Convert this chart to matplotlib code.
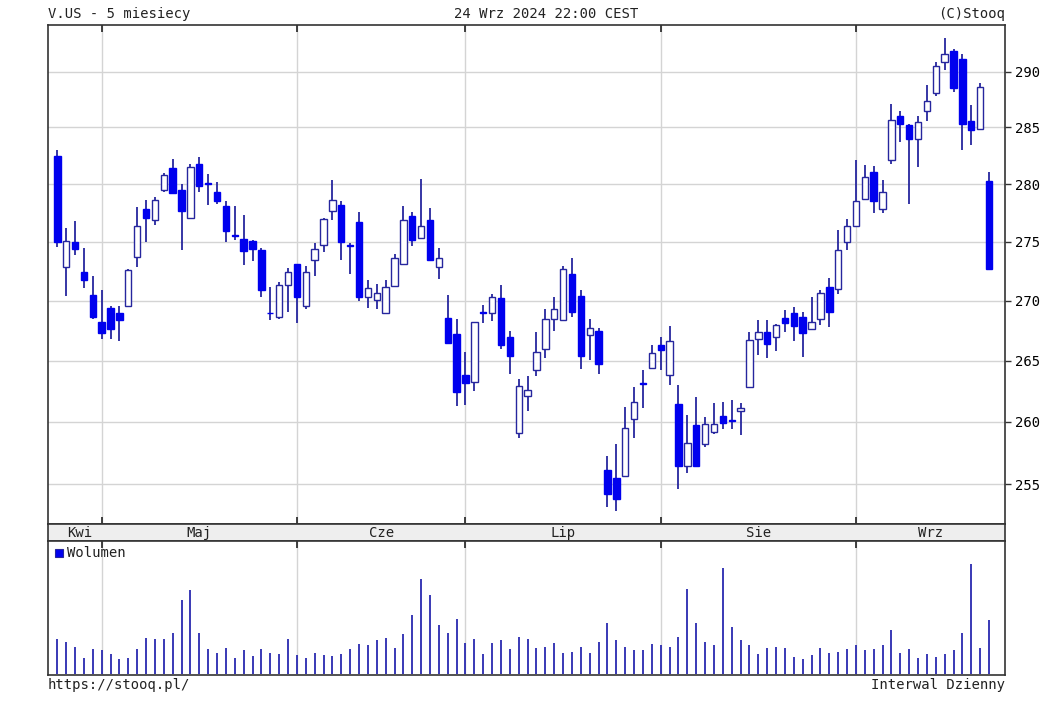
import matplotlib
matplotlib.use('Agg')
import matplotlib.pyplot as plt
from matplotlib.ticker import NullLocator
from matplotlib.patches import Rectangle

plt.rcParams['font.family'] = 'DejaVu Sans Mono'
plt.rcParams['font.size'] = 10

# daily candles, 24 Apr 2024 .. 24 Sep 2024
opens = [282.5, 272.9, 275.0, 272.4, 270.5, 268.2, 269.4, 269.0, 269.6, 273.7,
         277.85, 276.85, 279.5, 281.45, 279.5, 277.1, 281.8, 280.1, 279.3, 278.1,
         275.6, 275.25, 275.05, 274.3, 269.0, 268.65, 271.35, 273.1, 269.6, 273.5,
         274.75, 277.7, 278.15, 274.75, 276.75, 270.3, 270.1, 268.95, 271.25, 273.15,
         277.2, 275.3, 276.9, 272.9, 268.55, 267.2, 263.8, 263.25, 269.05, 268.95,
         270.2, 267.0, 259.1, 262.1, 264.25, 265.95, 268.5, 268.4, 272.3, 270.4,
         267.15, 267.5, 256.1, 255.45, 255.6, 260.25, 263.2, 264.4, 266.3, 263.85,
         261.45, 256.45, 259.75, 258.2, 259.15, 260.5, 260.15, 260.9, 262.85, 266.8,
         267.4, 266.95, 268.55, 268.95, 268.6, 267.65, 268.5, 271.15, 271.0, 275.0,
         276.4, 278.7, 281.05, 277.85, 282.15, 286.05, 285.2, 283.95, 286.5, 288.1,
         290.9, 291.9, 291.2, 285.6, 284.85, 280.25]
highs = [283.0, 276.2, 276.8, 274.5, 272.1, 270.9, 269.6, 269.6, 272.7, 278.0,
         278.6, 278.85, 281.0, 282.25, 280.0, 281.8, 282.4, 280.9, 280.2, 278.5,
         278.1, 277.35, 275.2, 274.5, 271.2, 271.6, 272.8, 273.15, 272.95, 274.95,
         277.1, 280.35, 278.55, 274.9, 277.6, 271.75, 271.45, 271.8, 273.95, 278.1,
         277.6, 280.45, 277.95, 274.5, 270.5, 268.5, 265.75, 268.2, 269.65, 270.55,
         271.35, 267.5, 263.5, 263.7, 267.4, 269.3, 270.3, 272.95, 273.65, 270.95,
         268.45, 267.7, 257.25, 258.2, 261.2, 262.8, 264.25, 266.3, 266.95, 267.9,
         263.0, 260.55, 262.0, 260.4, 261.5, 261.65, 261.75, 261.55, 267.4, 268.4,
         268.35, 268.05, 269.25, 269.45, 269.1, 270.3, 270.9, 271.95, 276.0, 277.0,
         282.15, 281.7, 281.6, 280.35, 287.1, 286.5, 285.3, 286.05, 288.8, 290.9,
         293.1, 292.1, 291.6, 287.05, 288.95, 281.05]
lows = [274.6, 270.4, 273.9, 271.1, 268.5, 266.8, 266.8, 266.6, 269.6, 272.9,
        275.0, 276.5, 279.3, 279.2, 274.35, 277.0, 279.3, 278.2, 278.25, 275.0,
        275.2, 273.05, 273.4, 270.3, 268.35, 268.45, 269.05, 268.1, 269.35, 272.1,
        274.1, 276.9, 273.5, 272.3, 270.0, 269.4, 269.35, 268.95, 271.2, 273.1,
        274.65, 275.3, 273.5, 271.85, 266.5, 261.3, 261.4, 262.5, 268.15, 268.3,
        266.0, 263.9, 258.7, 260.9, 263.7, 265.2, 267.45, 268.35, 268.65, 264.3,
        265.05, 263.9, 253.2, 252.85, 255.6, 258.65, 261.15, 264.35, 264.25, 263.0,
        254.6, 255.9, 256.4, 258.0, 259.0, 259.4, 259.4, 258.9, 262.85, 265.5,
        265.2, 265.8, 267.4, 266.6, 265.3, 267.6, 268.0, 267.8, 270.55, 274.3,
        276.4, 278.65, 277.5, 277.5, 281.75, 283.75, 278.3, 281.55, 285.6, 287.85,
        290.2, 288.2, 283.0, 283.45, 284.75, 272.7]
closes = [275.0, 275.1, 274.4, 271.8, 268.6, 267.3, 267.6, 268.4, 272.6, 276.4,
          277.1, 278.6, 280.8, 279.2, 277.7, 281.55, 279.85, 280.0, 278.5, 275.95,
          275.5, 274.2, 274.4, 270.95, 268.95, 271.3, 272.45, 270.3, 272.45, 274.4,
          277.0, 278.65, 275.0, 274.65, 270.3, 271.1, 270.65, 271.2, 273.65, 276.85,
          275.2, 276.35, 273.5, 273.65, 266.5, 262.4, 263.2, 268.2, 268.95, 270.35,
          266.3, 265.35, 262.95, 262.6, 265.7, 268.45, 269.3, 272.65, 269.1, 265.4,
          267.7, 264.7, 254.2, 253.8, 259.5, 261.6, 263.1, 265.6, 265.9, 266.6,
          256.45, 258.3, 256.45, 259.8, 259.8, 259.9, 260.05, 261.15, 266.75, 267.35,
          266.4, 268.0, 268.15, 267.85, 267.3, 268.2, 270.7, 269.1, 274.3, 276.4,
          278.55, 280.6, 278.55, 279.35, 285.7, 285.3, 283.95, 285.45, 287.4, 290.5,
          291.6, 288.5, 285.3, 284.8, 288.65, 272.7]
# volume, millions of shares
volume = [7.0, 6.5, 5.5, 3.3, 5.0, 4.8, 4.0, 3.0, 3.3, 5.0,
          7.3, 7.0, 7.0, 8.3, 14.8, 16.8, 8.3, 5.0, 4.3, 5.3,
          3.3, 4.8, 3.6, 5.0, 4.3, 4.0, 7.0, 3.8, 3.3, 4.3,
          3.8, 3.6, 4.0, 5.0, 6.0, 5.8, 6.8, 7.3, 5.3, 8.0,
          11.8, 19.0, 15.8, 9.8, 8.3, 11.0, 6.3, 7.0, 4.0, 6.3,
          6.8, 5.0, 7.5, 7.0, 5.3, 5.5, 6.3, 4.3, 4.5, 5.5,
          4.3, 6.5, 10.3, 6.8, 5.5, 4.8, 4.8, 6.0, 5.8, 5.5,
          7.5, 17.0, 10.3, 6.5, 5.8, 21.3, 9.5, 6.8, 5.8, 4.0,
          5.3, 5.5, 5.3, 3.5, 3.1, 3.8, 5.3, 4.3, 4.5, 5.0,
          5.8, 4.8, 5.0, 5.8, 8.8, 4.3, 5.0, 3.3, 4.0, 3.5,
          4.0, 4.8, 8.3, 22.0, 5.3, 10.8]

month_names = ['Kwi', 'Maj', 'Cze', 'Lip', 'Sie', 'Wrz']
month_start = [0, 5, 27, 46, 68, 90]   # index of first session of each month
price_ticks = [255, 260, 265, 270, 275, 280, 285, 290]

W, H = 1051, 705
blue = '#0000ee'
edge = '#26269e'
grid_c = '#d4d4d4'
frame_c = '#333333'

x = list(range(len(closes)))
xlim = (-1.05, 106.8)

fig = plt.figure(figsize=(W / 100, H / 100), dpi=100)
ax = fig.add_axes([48 / W, 1 - 524 / H, 957 / W, 499 / H])
axm = fig.add_axes([48 / W, 1 - 541 / H, 957 / W, 17 / H])
axv = fig.add_axes([48 / W, 1 - 675 / H, 957 / W, 134 / H])

# ==== candles ====
up = [c >= o for o, c in zip(opens, closes)]
ax.vlines(x, lows, highs, color=edge, lw=1.3, zorder=2)
ax.bar(x, [abs(c - o) for o, c in zip(opens, closes)],
       bottom=[min(o, c) for o, c in zip(opens, closes)], width=0.72,
       color=['white' if u else blue for u in up],
       edgecolor=[edge if u else blue for u in up], linewidth=1.0, zorder=3)

ax.set_yscale('log')
ax.set_ylim(251.84, 294.26)
ax.set_xlim(*xlim)
ax.yaxis.set_minor_locator(NullLocator())
ax.set_yticks(price_ticks)
ax.set_yticklabels([str(p) for p in price_ticks])
ax.yaxis.tick_right()
ax.tick_params(axis='y', direction='out', length=4, width=1, color=frame_c, pad=3)
ax.set_xticks(month_start[1:])
ax.set_xticklabels([])
ax.tick_params(axis='x', direction='in', length=5, width=1.2, color='#222222',
               top=True, bottom=True)
ax.grid(color=grid_c, lw=1, zorder=0)
ax.set_axisbelow(True)

# ==== month strip ====
axm.set_facecolor('#eeeeee')
axm.set_xlim(*xlim)
axm.set_ylim(0, 1)
axm.set_xticks([])
axm.set_yticks([])
bounds = month_start + [xlim[1]]
for i, name in enumerate(month_names):
    axm.text((bounds[i] + bounds[i + 1]) / 2, 0.45, name, ha='center', va='center',
             fontsize=10, color='#222222')

# ==== volume ====
axv.vlines(x, 0, volume, color='#2a2ab0', lw=1.3, zorder=2)
axv.set_xlim(*xlim)
axv.set_ylim(-0.2, 26.6)
axv.set_yticks([])
axv.set_xticks(month_start[1:])
axv.set_xticklabels([])
axv.tick_params(axis='x', direction='in', length=5, width=1.2, color='#222222',
                top=True, bottom=False)
axv.grid(axis='x', color=grid_c, lw=1, zorder=0)
axv.set_axisbelow(True)
axv.add_patch(Rectangle((7 / 957, 118 / 134), 8 / 957, 8 / 134, transform=axv.transAxes,
                        facecolor=blue, edgecolor=edge, lw=0.8))
axv.text(19 / 957, 122 / 134, 'Wolumen', transform=axv.transAxes, ha='left',
         va='center', fontsize=10, color='#222222')

for a in (ax, axm, axv):
    for s in a.spines.values():
        s.set_color(frame_c)
        s.set_linewidth(1.2)

# header / footer texts
fig.text(48 / W, 1 - 14 / H, 'V.US - 5 miesiecy', ha='left', va='center', color='#222222')
fig.text(546 / W, 1 - 14 / H, '24 Wrz 2024 22:00 CEST', ha='center', va='center', color='#222222')
fig.text(1005 / W, 1 - 14 / H, '(C)Stooq', ha='right', va='center', color='#222222')
fig.text(48 / W, 1 - 685 / H, 'https://stooq.pl/', ha='left', va='center', color='#222222')
fig.text(1005 / W, 1 - 685 / H, 'Interwal Dzienny', ha='right', va='center', color='#222222')

fig.savefig('out.png', dpi=100, facecolor='white')
